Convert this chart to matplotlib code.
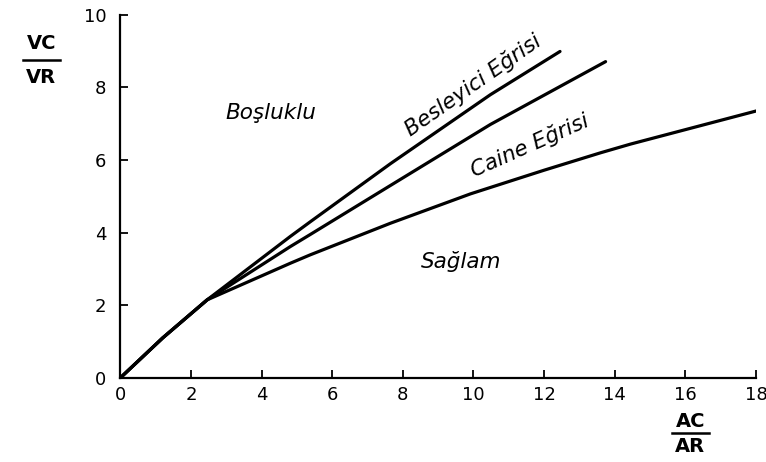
import matplotlib
matplotlib.use("Agg")
import matplotlib.pyplot as plt

# Feeder (Besleyici) curve
besleyici_x = [0, 1.2, 2.46, 4.82, 5.38, 7.65, 10.48, 12.45]
besleyici_y = [0, 1.1, 2.15, 3.9, 4.3, 5.9, 7.8, 8.99]

# Middle curve
orta_x = [0, 1.2, 2.46, 4.82, 5.38, 7.65, 10.48, 13.74]
orta_y = [0, 1.1, 2.15, 3.62, 3.95, 5.3, 6.98, 8.71]

# Caine curve
caine_x = [0, 1.2, 2.46, 4.82, 5.38, 7.65, 9.92, 12.0, 13.6, 14.45, 18.04]
caine_y = [0, 1.1, 2.15, 3.16, 3.39, 4.26, 5.07, 5.72, 6.2, 6.44, 7.36]

x_ticks = [0, 2, 4, 6, 8, 10, 12, 14, 16, 18]
y_ticks = [0, 2, 4, 6, 8, 10]

fig = plt.figure(figsize=(7.66, 4.62), dpi=100)
ax = fig.add_axes([0.157, 0.182, 0.830, 0.786])

for xs, ys in [(besleyici_x, besleyici_y), (orta_x, orta_y), (caine_x, caine_y)]:
    ax.plot(xs, ys, color="black", lw=2.3, solid_capstyle="round", solid_joinstyle="round")

ax.set_xlim(0, 18)
ax.set_ylim(0, 10)
ax.set_xticks(x_ticks)
ax.set_yticks(y_ticks)
ax.spines["top"].set_visible(False)
ax.spines["right"].set_visible(False)
for s in ("left", "bottom"):
    ax.spines[s].set_linewidth(1.6)
ax.tick_params(direction="in", length=6, width=1.3, labelsize=13)
ax.tick_params(axis="y", pad=10)
ax.tick_params(axis="x", pad=6)

style = dict(color="black", fontsize=15.5, style="italic")
ax.text(4.25, 7.3, "Boşluklu", ha="center", va="center", **style)
ax.text(10.0, 8.05, "Besleyici Eğrisi", ha="center", va="center", rotation=35,
        rotation_mode="anchor", **style)
ax.text(11.6, 6.4, "Caine Eğrisi", ha="center", va="center", rotation=24,
        rotation_mode="anchor", **style)
ax.text(9.65, 3.2, "Sağlam", ha="center", va="center", **style)

# Fraction-style axis labels
fig.text(0.054, 0.905, "VC", ha="center", va="center", fontsize=14, fontweight="bold")
fig.add_artist(plt.Line2D([0.030, 0.078], [0.870, 0.870], color="black", lw=1.8,
                          transform=fig.transFigure))
fig.text(0.054, 0.832, "VR", ha="center", va="center", fontsize=14, fontweight="bold")

fig.text(0.901, 0.088, "AC", ha="center", va="center", fontsize=14, fontweight="bold")
fig.add_artist(plt.Line2D([0.877, 0.925], [0.062, 0.062], color="black", lw=1.8,
                          transform=fig.transFigure))
fig.text(0.901, 0.033, "AR", ha="center", va="center", fontsize=14, fontweight="bold")

fig.savefig("out.png", dpi=100)
